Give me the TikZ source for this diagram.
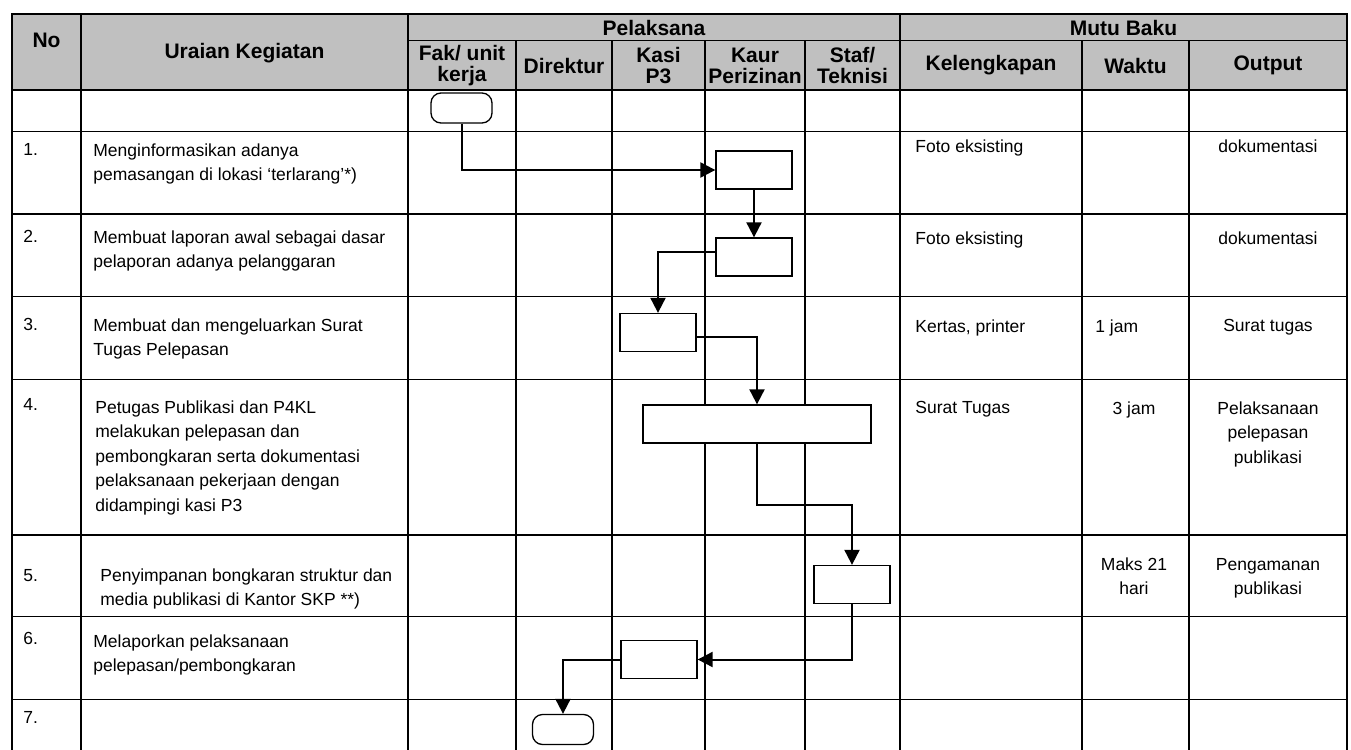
\documentclass[tikz,border=0pt]{standalone}
\usepackage{fontspec}
\setmainfont{Liberation Sans}
\usetikzlibrary{arrows.meta,positioning}
\definecolor{hdrgray}{RGB}{192,192,192}

\begin{document}
\begin{tikzpicture}[
        x=0.5pt, y=-0.5pt,
        grid/.style={line width=0.75pt, line cap=rect},
        head/.style={font=\bfseries\fontsize{10.5}{10.5}\selectfont, align=center, inner sep=0pt},
        cell/.style={font=\fontsize{8.75}{12.25}\selectfont, align=left, anchor=north west, inner sep=0pt},
        cellc/.style={font=\fontsize{8.75}{12.25}\selectfont, align=center, anchor=north, inner sep=0pt},
        proc/.style={rectangle, draw=black, line width=0.65pt, fill=white,
                     minimum width=38pt, minimum height=19pt, inner sep=0pt},
        term/.style={rectangle, rounded corners=5pt, draw=black, line width=0.65pt, fill=white,
                     minimum width=30.5pt, minimum height=15pt, inner sep=0pt},
        flow/.style={-{Triangle[length=7.5pt,width=7.5pt]}, line width=1pt}
    ]
    \useasboundingbox (0,0) rectangle (1351,750);

    % Table grid
    \fill[hdrgray] (12,14) rectangle (1347,90);
    \foreach \y in {90,131.7,214,296.7,379.3,535,616.7,699.3}
        \draw[grid] (12,\y) -- (1347,\y);
    \draw[grid] (408,40.7) -- (1347,40.7);
    \foreach \x in {81,408,900}
        \draw[grid] (\x,14) -- (\x,750);
    \foreach \x in {516,612,705,805,1082,1189}
        \draw[grid] (\x,40.7) -- (\x,750);
    \draw[grid, line width=1pt] (12,750) -- (12,14) -- (1347,14) -- (1347,750);

    % Header
    \node[head] (hno) at (46.5,40) {No};
    \node[head] (huraian) at (244.5,53) {Uraian Kegiatan};
    \node[head] (hpelaksana) at (654,27.5) {Pelaksana};
    \node[head] (hmutu) at (1123.5,27.5) {Mutu Baku};
    \node[head] (hfak) at (462,65.5) {Fak/ unit\\kerja};
    \node[head] (hdir) at (564,65.5) {Direktur};
    \node[head] (hkasi) at (658.5,65.5) {Kasi\\P3};
    \node[head] (hkaur) at (755,65.5) {Kaur\\Perizinan};
    \node[head] (hstaf) at (852.5,65.5) {Staf/\\Teknisi};
    \node[head] (hkel) at (991,65.5) {Kelengkapan};
    \node[head] (hwaktu) at (1135.5,65.5) {Waktu};
    \node[head] (houtput) at (1268,65.5) {Output};

    % Row numbers
    \foreach \n/\y in {1/143,2/230,3/318,4/398,5/569,6/632,7/711}
        \node[cell] (no\n) at (23,\y) {\n.};

    % Activities
    \node[cell] (act1) at (93,143) {Menginformasikan adanya\\pemasangan di lokasi ‘terlarang’*)};
    \node[cell] (act2) at (93,230) {Membuat laporan awal sebagai dasar\\pelaporan adanya pelanggaran};
    \node[cell] (act3) at (93,318) {Membuat dan mengeluarkan Surat\\Tugas Pelepasan};
    \node[cell] (act4) at (95,400) {Petugas Publikasi dan P4KL\\melakukan pelepasan dan\\pembongkaran serta dokumentasi\\pelaksanaan pekerjaan dengan\\didampingi kasi P3};
    \node[cell] (act5) at (100,568) {Penyimpanan bongkaran struktur dan\\media publikasi di Kantor SKP **)};
    \node[cell] (act6) at (93,634) {Melaporkan pelaksanaan\\pelepasan/pembongkaran};

    % Mutu baku
    \node[cell] (kel1) at (915,139) {Foto eksisting};
    \node[cell] (kel2) at (915,231) {Foto eksisting};
    \node[cell] (kel3) at (915,319) {Kertas, printer};
    \node[cell] (kel4) at (915,401) {Surat Tugas};
    \node[cell] (wkt3) at (1095,319) {1 jam};
    \node[cellc] (wkt4) at (1134,401) {3 jam};
    \node[cellc] (wkt5) at (1134,557) {Maks 21\\hari};
    \node[cellc] (out1) at (1268,139) {dokumentasi};
    \node[cellc] (out2) at (1268,231) {dokumentasi};
    \node[cellc] (out3) at (1268,319) {Surat tugas};
    \node[cellc] (out4) at (1268,401) {Pelaksanaan\\pelepasan\\publikasi};
    \node[cellc] (out5) at (1268,558) {Pengamanan\\publikasi};

    % Flow shapes
    \node[term] (start) at (461.5,108) {};
    \node[proc] (box1) at (754,170) {};
    \node[proc] (box2) at (754,257) {};
    \node[proc] (box3) at (658,332.5) {};
    \node[proc, minimum width=114pt] (box4) at (757,424) {};
    \node[proc] (box5) at (852,584.5) {};
    \node[proc] (box6) at (659,659.5) {};
    \node[term] (stop) at (563,729.5) {};

    % Connections
    \draw[flow] (start.south) |- (box1.west);
    \draw[flow] (box1.south) -- (box2.north);
    \draw[flow] ([yshift=2.5pt]box2.west) -| (box3.north);
    \draw[flow] ([yshift=-2pt]box3.east) -| (box4.north);
    \draw[flow] (box4.south) -- ++(0,61) -| (box5.north);
    \draw[flow] (box5.south) |- (box6.east);
    \draw[flow] (box6.west) -| (stop.north);

\end{tikzpicture}
\end{document}
